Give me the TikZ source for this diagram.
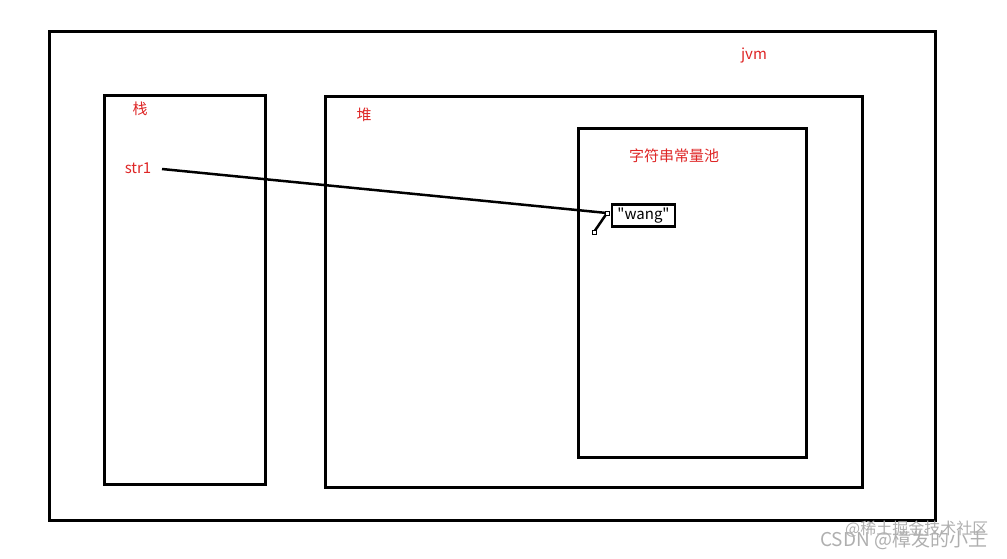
\documentclass[tikz,border=0pt]{standalone}
\usepackage{fontspec}
\setmainfont{Noto Sans CJK SC}
\newfontfamily\wangfont{Noto Sans CJK SC}[Ligatures=TeXOff]
\usetikzlibrary{positioning}
\definecolor{labelred}{RGB}{222,38,38}
\definecolor{markgray}{RGB}{175,175,175}

\begin{document}
\begin{tikzpicture}[x=1pt,y=-1pt,
  area node/.style={rectangle,draw,line width=3pt,anchor=north west,inner sep=0pt},
  label node/.style={text=labelred,font=\fontsize{15}{17}\selectfont,inner sep=0pt},
  str node/.style={rectangle,draw,line width=2.5pt,font=\wangfont\fontsize{15}{17}\selectfont,
    inner sep=2pt,minimum width=63pt,minimum height=22pt},
  handle node/.style={rectangle,draw,fill=white,line width=0.6pt,minimum size=4pt,inner sep=0pt},
  mark node/.style={text=markgray,inner sep=0pt,anchor=west}]

  \useasboundingbox (0,0) rectangle (1007,558);

  \node[area node,minimum width=886pt,minimum height=489pt] (jvm) at (48,30) {};
  \node[area node,minimum width=161pt,minimum height=389pt] (stack) at (103,94) {};
  \node[area node,minimum width=537pt,minimum height=391pt] (heap) at (324,95) {};
  \node[area node,minimum width=228pt,minimum height=329pt] (pool) at (577,127) {};

  \node[label node] (jvmlabel) at (754,55) {jvm};
  \node[label node] (stacklabel) at (140,109) {栈};
  \node[label node] (heaplabel) at (364,115) {堆};
  \node[label node] (poollabel) at (674,156) {字符串常量池};
  \node[label node] (str1) at (138,168) {str1};

  \node[str node] (wang) at (643.5,215.5) {"wang"};

  \coordinate (start) at (162,169);
  \coordinate (h1) at (607,213);
  \coordinate (h2) at (594,232);

  \draw[line width=2.5pt] (start) -- (h1);
  \draw[line width=2.5pt] (h1) -- (h2);
  \node[handle node] at (h1) {};
  \node[handle node] at (h2) {};

  \node[mark node,font=\fontsize{16}{18}\selectfont] (mark1) at (845,529) {@稀土掘金技术社区};
  \node[mark node,font=\fontsize{19}{21}\selectfont] (mark2) at (820,540) {CSDN @樟发的小王};

\end{tikzpicture}
\end{document}
